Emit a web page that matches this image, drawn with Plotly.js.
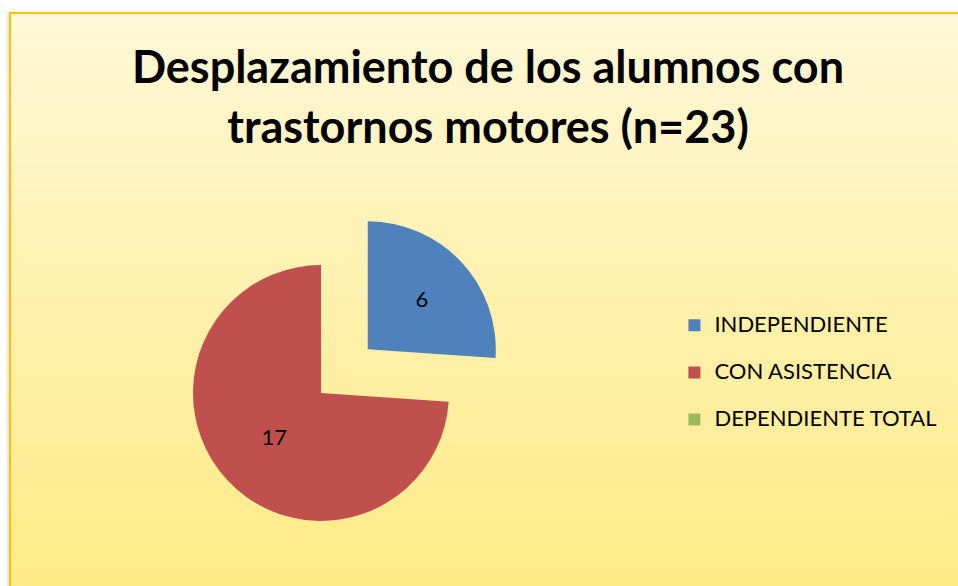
<!DOCTYPE html>
<html>
<head>
<meta charset="utf-8">
<script src="https://cdn.plot.ly/plotly-3.0.1.min.js"></script>
<style>
  html, body { margin: 0; padding: 0; background: #ffffff; width: 958px; height: 586px; overflow: hidden; }
  #frame {
    position: absolute; left: 9px; top: 12px; width: 960px; height: 590px;
    border-left: 2px solid #FFC000; border-top: 2px solid #FFC000;
    background: linear-gradient(to bottom, #FFF8D8 0%, #FFF1B0 45%, #FFEB84 100%);
    box-shadow: -2px 0 3px rgba(0,0,0,0.12);
  }
  #chart { position: absolute; left: 0; top: 0; width: 958px; height: 586px; }
</style>
</head>
<body>
<div id="frame"></div>
<div id="chart"></div>
<script>
const titleLines = ['Desplazamiento de los alumnos con', 'trastornos motores (n=23)'];
const categories = ['INDEPENDIENTE', 'CON ASISTENCIA', 'DEPENDIENTE TOTAL'];
const counts = [6, 17, 0];
const sliceColors = ['#4F81BD', '#C0504D', '#9BBB59'];
const pulls = [0.5, 0, 0];

const legendLabels = categories.map(c => "<span style='font-size:22px'>" + c + "</span><br> ");
const titleText = titleLines.map(t => "<span style='font-size:45px'>" + t + "</span>").join('<br>');

const trace = {
  type: 'pie',
  labels: legendLabels,
  values: counts,
  sort: false,
  direction: 'clockwise',
  rotation: 0,
  pull: pulls,
  marker: { colors: sliceColors, line: { width: 0 } },
  textinfo: 'value',
  textposition: 'inside',
  insidetextorientation: 'horizontal',
  insidetextfont: { family: 'Lato, Calibri, sans-serif', size: 22, color: '#000000' },
  hoverinfo: 'skip',
  domain: { x: [129/958, 513/958], y: [1 - 585/586, 1 - 201/586] }
};

const layout = {
  width: 958, height: 586,
  margin: { l: 0, r: 0, t: 0, b: 0, autoexpand: false },
  paper_bgcolor: 'rgba(0,0,0,0)',
  plot_bgcolor: 'rgba(0,0,0,0)',
  title: {
    text: titleText,
    font: { family: 'Lato, Calibri, sans-serif', size: 46, color: '#000000', weight: 'bold' },
    x: 488/958, xanchor: 'center',
    y: 0.858, yanchor: 'top', yref: 'container'
  },
  showlegend: true,
  legend: {
    x: 0.704, xanchor: 'left',
    y: 0.475, yanchor: 'top',
    font: { family: 'Lato, Calibri, sans-serif', size: 17, color: '#000000' },
    bgcolor: 'rgba(0,0,0,0)',
    borderwidth: 0,
    valign: 'top',
    traceorder: 'normal'
  }
};

Plotly.newPlot('chart', [trace], layout, { staticPlot: true, displayModeBar: false });
</script>
</body>
</html>
